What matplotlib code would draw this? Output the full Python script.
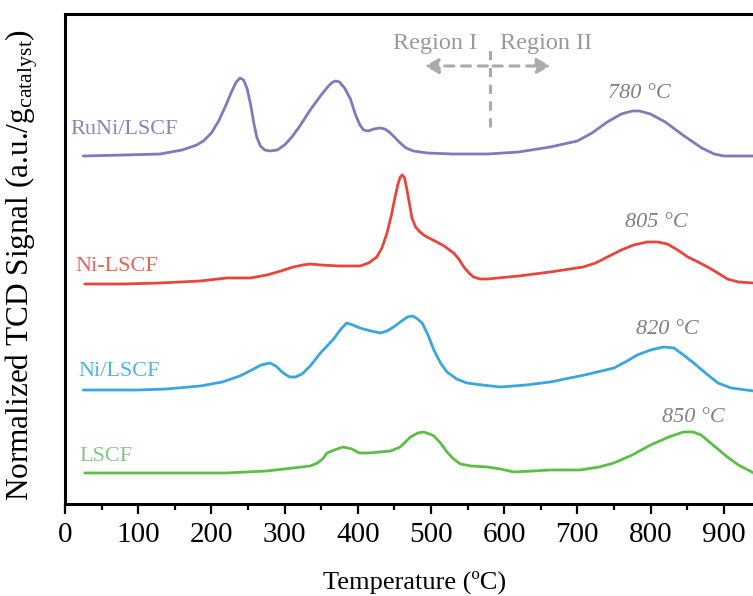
import numpy as np
import matplotlib
matplotlib.use("Agg")
import matplotlib.pyplot as plt

plt.rcParams['font.family'] = ['Liberation Serif', 'DejaVu Serif']
plt.rcParams['mathtext.fontset'] = 'custom'
plt.rcParams['mathtext.rm'] = 'Liberation Serif'
plt.rcParams['mathtext.it'] = 'Liberation Serif:italic'

# H2-TPR traces, temperature (C) vs signal (offset, arbitrary units)
t_runi = [25, 80, 130, 160, 180, 189, 200, 210, 220, 228, 234, 239, 244, 249, 254,
          258, 262, 267, 273, 280, 290, 300, 310, 320, 335, 350, 360, 366, 370, 375,
          382, 390, 397, 403, 408, 414, 422, 430, 437, 443, 450, 458, 466, 476, 495,
          530, 577, 620, 663, 700, 720, 741, 760, 775, 785, 800, 820, 846, 870, 887,
          900, 941]
s_runi = [347, 348, 349, 353, 358, 362, 370, 382, 398, 412, 421, 425, 423, 414, 397,
          380, 366, 357, 353, 352, 353, 358, 366, 376, 393, 408, 417, 421, 422, 421,
          415, 404, 388, 378, 373, 372, 374, 375, 374, 371, 366, 360, 355, 352, 350,
          349, 349, 351, 356, 362, 370, 381, 389, 392, 392, 389, 381, 367, 355, 349,
          347, 347]

t_nil = [27, 80, 130, 185, 221, 253, 276, 295, 312, 325, 335, 349, 375, 403, 415,
         426, 433, 440, 446, 451, 455, 458, 461, 464, 467, 470, 474, 479, 485, 492,
         500, 508, 518, 531, 538, 545, 552, 558, 567, 577, 620, 663, 708, 725, 741,
         760, 777, 795, 810, 823, 837, 851, 865, 878, 892, 905, 920, 941]
s_nil = [219, 219, 220, 222, 225, 225, 228, 232, 236, 238, 239, 238, 237, 237, 240,
         246, 255, 270, 288, 306, 319, 326, 328, 325, 314, 302, 285, 276, 271, 267,
         264, 261, 257, 250, 244, 236, 230, 226, 224, 224, 227, 231, 236, 240, 246,
         253, 258, 261, 261, 259, 253, 246, 241, 236, 230, 224, 221, 220]

t_nis = [25, 100, 139, 185, 215, 239, 255, 268, 280, 288, 298, 307, 315, 324, 335,
         349, 358, 367, 377, 385, 393, 403, 418, 431, 440, 449, 460, 468, 474, 480,
         488, 496, 504, 513, 522, 535, 549, 570, 595, 630, 663, 710, 750, 768, 782,
         800, 818, 832, 845, 859, 875, 892, 910, 941]
s_nis = [113, 113, 114, 117, 121, 127, 133, 138, 140, 137, 130, 126, 126, 129, 137,
         150, 157, 164, 174, 180, 178, 175, 172, 170, 172, 176, 182, 186, 187, 185,
         180, 168, 153, 140, 131, 124, 120, 118, 116, 118, 121, 128, 135, 142, 148,
         153, 156, 155, 148, 140, 130, 120, 115, 112]

t_lscf = [27, 150, 221, 276, 312, 335, 345, 352, 358, 368, 380, 392, 402, 415, 445,
          458, 465, 472, 482, 490, 498, 504, 513, 522, 531, 540, 555, 577, 595, 613,
          640, 663, 704, 730, 750, 775, 800, 825, 845, 858, 869, 887, 905, 920, 941]
s_lscf = [30, 30, 30, 32, 35, 37, 40, 44, 50, 53, 56, 54, 50, 50, 52,
          56, 61, 66, 70, 71, 69, 67, 60, 51, 44, 39, 37, 36, 34, 31,
          32, 33, 33, 36, 40, 48, 58, 66, 71, 71, 68, 57, 46, 38, 30]

names = ['RuNi/LSCF', 'Ni-LSCF', 'Ni/LSCF', 'LSCF']
line_colors = ['#7c7cbd', '#e8453d', '#3aa6df', '#5cbf45']
text_colors = ['#8686b6', '#e8625a', '#52b2e3', '#86c784']
name_pos = [(7, 373), (14, 236), (18, 131), (20, 46)]

peak_labels = ['780 \u00b0C', '805 \u00b0C', '820 \u00b0C', '850 \u00b0C']
peak_pos = [(785, 410), (808, 280), (823, 173), (859, 85)]

fig = plt.figure(figsize=(7.53, 5.96), dpi=100)
ax = fig.add_axes([0.0863, 0.1544, 0.9137, 0.8221])

traces = [(t_runi, s_runi), (t_nil, s_nil), (t_nis, s_nis), (t_lscf, s_lscf)]
for (t, s), c in zip(traces, line_colors):
    ax.plot(t, s, color=c, lw=2.0, solid_joinstyle='round', solid_capstyle='round')

for name, (x, y), c in zip(names, name_pos, text_colors):
    ax.text(x, y, name, color=c, fontsize=16, ha='left', va='center')

for lab, (x, y) in zip(peak_labels, peak_pos):
    ax.text(x, y, lab, color='#808080', fontsize=16, style='italic',
            ha='center', va='center')

# region divider
ax.plot([581, 581], [376, 456], ls=(0, (3, 2.5)), color='#aaaaaa', lw=2.2)
for x_end in [488, 667]:
    ax.annotate('', xy=(x_end, 437), xytext=(581, 437),
                arrowprops=dict(arrowstyle='-|>,head_length=0.8,head_width=0.45',
                                color='#aaaaaa', lw=2.2, ls=(0, (3, 2.5))))
ax.text(563, 460, 'Region I', color='#999999', fontsize=17.5, ha='right', va='center')
ax.text(594, 460, 'Region II', color='#999999', fontsize=17.5, ha='left', va='center')

ax.set_xlim(0, 940)
ax.set_ylim(-1, 489)
ax.set_xticks(np.arange(0, 901, 100))
ax.set_xticks(np.arange(50, 901, 100), minor=True)
ax.set_yticks([])
ax.tick_params(axis='x', which='major', direction='out', length=7, width=1.6,
               labelsize=21, pad=6)
ax.tick_params(axis='x', which='minor', direction='out', length=4, width=1.6)
for sp in ['left', 'bottom', 'top']:
    ax.spines[sp].set_linewidth(2.2)
ax.spines['right'].set_visible(False)

fig.text(0.551, 0.0235, 'Temperature (\u00baC)', fontsize=19, ha='center', va='center')
fig.text(0.029, 0.555, r'Normalized TCD Signal (a.u./g$_{\mathrm{catalyst}}$)',
         fontsize=22.5, rotation=90, ha='center', va='center')

fig.savefig('out.png', dpi=100)
